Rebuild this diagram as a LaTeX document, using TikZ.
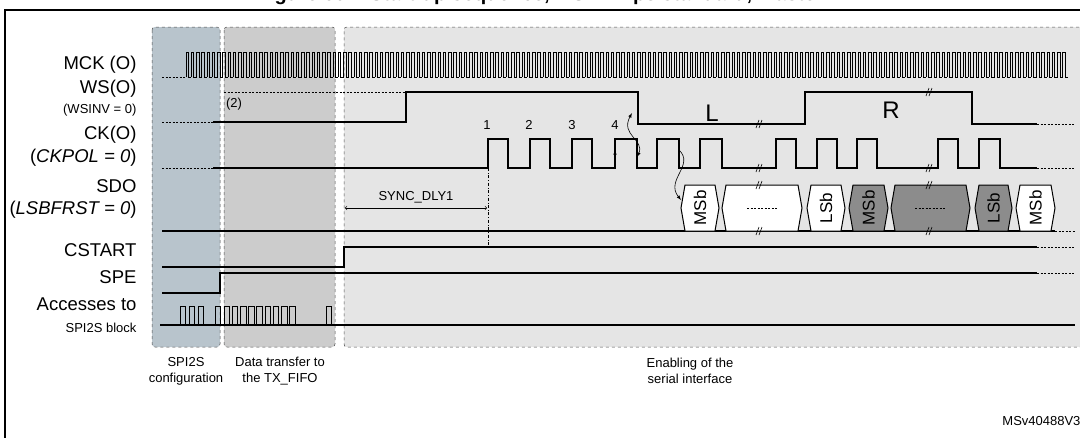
\documentclass[tikz,border=0pt]{standalone}
\usepackage{fontspec}
\setmainfont{Liberation Sans}
\begin{document}
\begin{tikzpicture}[x=1pt,y=-1pt,
  sig/.style={line width=1.1pt},
  dots/.style={line width=1pt,dash pattern=on 2pt off 1.5pt},
  zone/.style={dashed,line width=0.5pt,rounded corners=3pt,draw=black!70},
  lab/.style={anchor=east,font=\fontsize{18.5}{20}\selectfont},
  slab/.style={anchor=east,font=\fontsize{13}{14}\selectfont},
  blab/.style={align=center,font=\fontsize{13}{16}\selectfont},
  brk/.style={line width=0.6pt}]
\useasboundingbox (0,0) rectangle (1080,437);
\node[font=\bfseries\fontsize{20}{21}\selectfont] (title) at (540,-5) {Figure 601. Start-up sequence, I2S Philips standard, master};
\draw[line width=1.4pt] (5,440) -- (5,10) -- (1085,10);
% zones
\fill[black!10] (344,27) rectangle (1085,347);
\draw[zone] (1085,27) -- (344,27) -- (344,347) -- (1085,347);
\draw[zone,fill=black!20] (224,27) rectangle (335,347);
\draw[zone,fill={rgb,255:red,184;green,196;blue,204}] (152,27) rectangle (220,347);
% labels
\node[lab] (l1) at (140,65) {MCK (O)};
\node[lab] (l2) at (140,89) {WS(O)};
\node[slab] (l3) at (140,110) {(WSINV = 0)};
\node[lab] (l4) at (140,135) {CK(O)};
\node[lab] (l5) at (140,158) {(\textit{CKPOL = 0})};
\node[lab] (l6) at (140,186) {SDO};
\node[lab] (l7) at (140,210) {(\textit{LSBFRST = 0})};
\node[lab] (l8) at (140,250) {CSTART};
\node[lab] (l9) at (140,277) {SPE};
\node[lab] (l10) at (140,304) {Accesses to};
\node[slab] (l11) at (140,328) {SPI2S block};
\node[blab] (b1) at (186,371) {SPI2S\\configuration};
\node[blab] (b2) at (280,371) {Data transfer to\\the TX\_FIFO};
\node[blab] (b3) at (690,371) {Enabling of the\\serial interface};
\node[font=\fontsize{13}{14}\selectfont,anchor=east] (ms) at (1084,421) {MSv40488V3};
% MCK
\draw[dots] (162,77) -- (186,77);
\foreach \i in {0,...,167}{
  \pgfmathsetmacro\xa{186+5.25*\i}
  \draw[line width=0.8pt] (\xa,77) -- (\xa,52) -- (\xa+2.6,52) -- (\xa+2.6,77) -- (\xa+5.25,77);
}
% WS
\draw[dots] (162,122) -- (213,122);
\draw[dots,line width=0.8pt] (224,92) -- (406,92);
\draw[sig] (213,122) -- (406,122) -- (406,92) -- (638,92) -- (638,124) -- (805,124) -- (805,92) -- (972,92) -- (972,124) -- (1037,124);
\draw[dots] (1037,124) -- (1075,124);
\node[font=\fontsize{13}{14}\selectfont] (n2) at (234,104) {(2)};
\node[font=\fontsize{24}{24}\selectfont] (L) at (712,113) {L};
\node[font=\fontsize{24}{24}\selectfont] (R) at (891,110) {R};
% CK
\draw[dots] (162,168) -- (213,168);
\draw[sig] (213,168) -- (488,168)
  -- (488,139) -- (508,139) -- (508,168) -- (530,168)
  -- (530,139) -- (550,139) -- (550,168) -- (572,168)
  -- (572,139) -- (592,139) -- (592,168) -- (615,168)
  -- (615,139) -- (637,139) -- (637,168) -- (657,168)
  -- (657,139) -- (679,139) -- (679,168) -- (700,168)
  -- (700,139) -- (722,139) -- (722,168) -- (776,168)
  -- (776,139) -- (796,139) -- (796,168) -- (817,168)
  -- (817,139) -- (837,139) -- (837,168) -- (857,168)
  -- (857,139) -- (877,139) -- (877,168) -- (938,168)
  -- (938,139) -- (958,139) -- (958,168) -- (979,168)
  -- (979,139) -- (1000,139) -- (1000,168) -- (1037,168);
\draw[dots] (1037,168) -- (1075,168);
\foreach \n/\x in {1/487,2/529,3/572,4/615}
  \node[font=\fontsize{13}{14}\selectfont] (c\n) at (\x,125) {\n};
\draw[-latex,line width=0.6pt] (615,160) -- (615,150);
\draw[latex-latex,line width=0.6pt] (632,113) .. controls (620,135) and (645,140) .. (637,157);
\draw[-latex,line width=0.6pt] (679,150) .. controls (695,165) and (665,180) .. (681,200);
% SYNC_DLY1
\draw[dash dot,line width=0.5pt] (488,168) -- (488,247);
\draw[<->,line width=0.6pt] (345,208) -- (487,208);
\node[font=\fontsize{13}{14}\selectfont] (sd) at (416,197) {SYNC\_DLY1};
% SDO
\draw[sig] (162,231) -- (1055,231);
\draw[dots] (1055,231) -- (1075,231);
\foreach \a/\b/\f/\t in {681/719/white/MSb,722/802/white/,807/845/white/LSb,849/888/black!45/MSb,891/970/black!45/,975/1012/black!45/LSb,1016/1055/white/MSb}{
  \draw[line width=1pt,fill=\f] (\a,208) -- (\a+4,185) -- (\b-4,185) -- (\b,208) -- (\b-4,231) -- (\a+4,231) -- cycle;
  \node[rotate=90,font=\fontsize{17}{17}\selectfont] at ({(\a+\b)/2},208) {\t};
}
\draw[dots,line width=0.8pt] (747,208) -- (777,208);
\draw[dots,line width=0.8pt] (915,208) -- (945,208);
% CSTART, SPE
\draw[sig] (162,267) -- (344,267) -- (344,247) -- (1037,247);
\draw[dots] (1037,247) -- (1075,247);
\draw[sig] (162,293) -- (220,293) -- (220,273) -- (1037,273);
\draw[dots] (1037,273) -- (1075,273);
% accesses
\draw[sig] (160,325) -- (1075,325);
\foreach \x in {180,189,198,215,224,232.2,240.4,248.6,256.8,265,273.2,281.4,289.6,326}
  \draw[line width=0.8pt] (\x,325) -- (\x,306) -- (\x+5.5,306) -- (\x+5.5,325);
% break marks
\foreach \x/\y in {759/124,929/92,759/168,929/168,759/185,929/185,759/231,929/231}{
  \draw[brk] (\x-3,\y+4) -- (\x,\y-4);
  \draw[brk] (\x,\y+4) -- (\x+3,\y-4);
}
\end{tikzpicture}
\end{document}
